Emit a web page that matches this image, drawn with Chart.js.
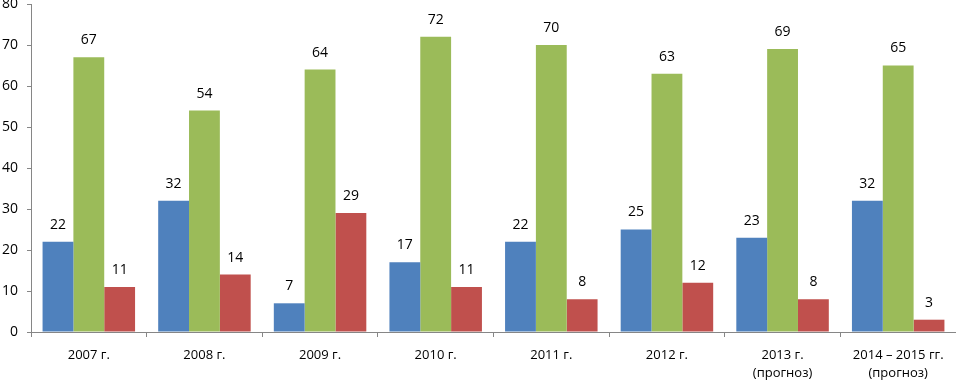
<!DOCTYPE html>
<html>
<head>
<meta charset="utf-8">
<script src="https://cdn.jsdelivr.net/npm/chart.js@4.4.0/dist/chart.umd.min.js"></script>
<style>
  html, body { margin: 0; padding: 0; background: #fff; }
  #wrap { width: 956px; height: 381px; position: relative; }
</style>
</head>
<body>
<div id="wrap"><canvas id="myChart"></canvas></div>
<script>
// categories and values
const labels = [["2007 г."], ["2008 г."], ["2009 г."], ["2010 г."], ["2011 г."], ["2012 г."],
                ["2013 г.", "(прогноз)"], ["2014 – 2015 гг.", "(прогноз)"]];
const blueValues = [22, 32, 7, 17, 22, 25, 23, 32];
const greenValues = [67, 54, 64, 72, 70, 63, 69, 65];
const redValues = [11, 14, 29, 11, 8, 12, 8, 3];
const yTicks = [0, 10, 20, 30, 40, 50, 60, 70, 80];

const fontFamily = "'Open Sans', 'Liberation Sans', sans-serif";
const axisColor = "#868686";

// draw the value above each bar
const valueLabels = {
    id: "valueLabels",
    afterDatasetsDraw(chart) {
        const ctx = chart.ctx;
        ctx.save();
        ctx.font = "14px " + fontFamily;
        ctx.fillStyle = "#000";
        ctx.textAlign = "center";
        ctx.textBaseline = "middle";
        chart.data.datasets.forEach((ds, i) => {
            chart.getDatasetMeta(i).data.forEach((bar, j) => {
                ctx.fillText(ds.data[j], bar.x, bar.y - 17);
            });
        });
        ctx.restore();
    }
};

const config = {
    type: "bar",
    data: {
        labels: labels,
        datasets: [
            { data: blueValues, backgroundColor: "#4F81BD" },
            { data: greenValues, backgroundColor: "#9BBB59" },
            { data: redValues, backgroundColor: "#C0504D" }
        ]
    },
    options: {
        responsive: true,
        maintainAspectRatio: false,
        animation: false,
        layout: { autoPadding: false, padding: { top: 4, right: 0, left: 0, bottom: 0 } },
        plugins: { legend: { display: false }, tooltip: { enabled: false } },
        datasets: { bar: { categoryPercentage: 0.8, barPercentage: 1.0 } },
        scales: {
            x: {
                grid: { drawOnChartArea: false, drawTicks: true, tickLength: 5, color: axisColor, offset: true },
                border: { color: axisColor },
                ticks: { color: "#000", font: { family: fontFamily, size: 13, lineHeight: 1.4 }, padding: 9, maxRotation: 0 },
                afterFit(scale) {
                    scale.height = 49;
                    scale.paddingLeft = 0;
                    scale.paddingRight = 0;
                }
            },
            y: {
                min: 0,
                max: 80,
                afterBuildTicks(scale) { scale.ticks = yTicks.map(v => ({ value: v })); },
                grid: { drawOnChartArea: false, drawTicks: true, tickLength: 4, color: axisColor },
                border: { color: axisColor },
                ticks: { color: "#000", font: { family: fontFamily, size: 14 }, padding: 9 },
                afterFit(scale) {
                    scale.width = 31;
                    scale.paddingTop = 0;
                    scale.paddingBottom = 0;
                }
            }
        }
    },
    plugins: [valueLabels]
};

const myChart = new Chart(document.getElementById("myChart"), config);
</script>
</body>
</html>
